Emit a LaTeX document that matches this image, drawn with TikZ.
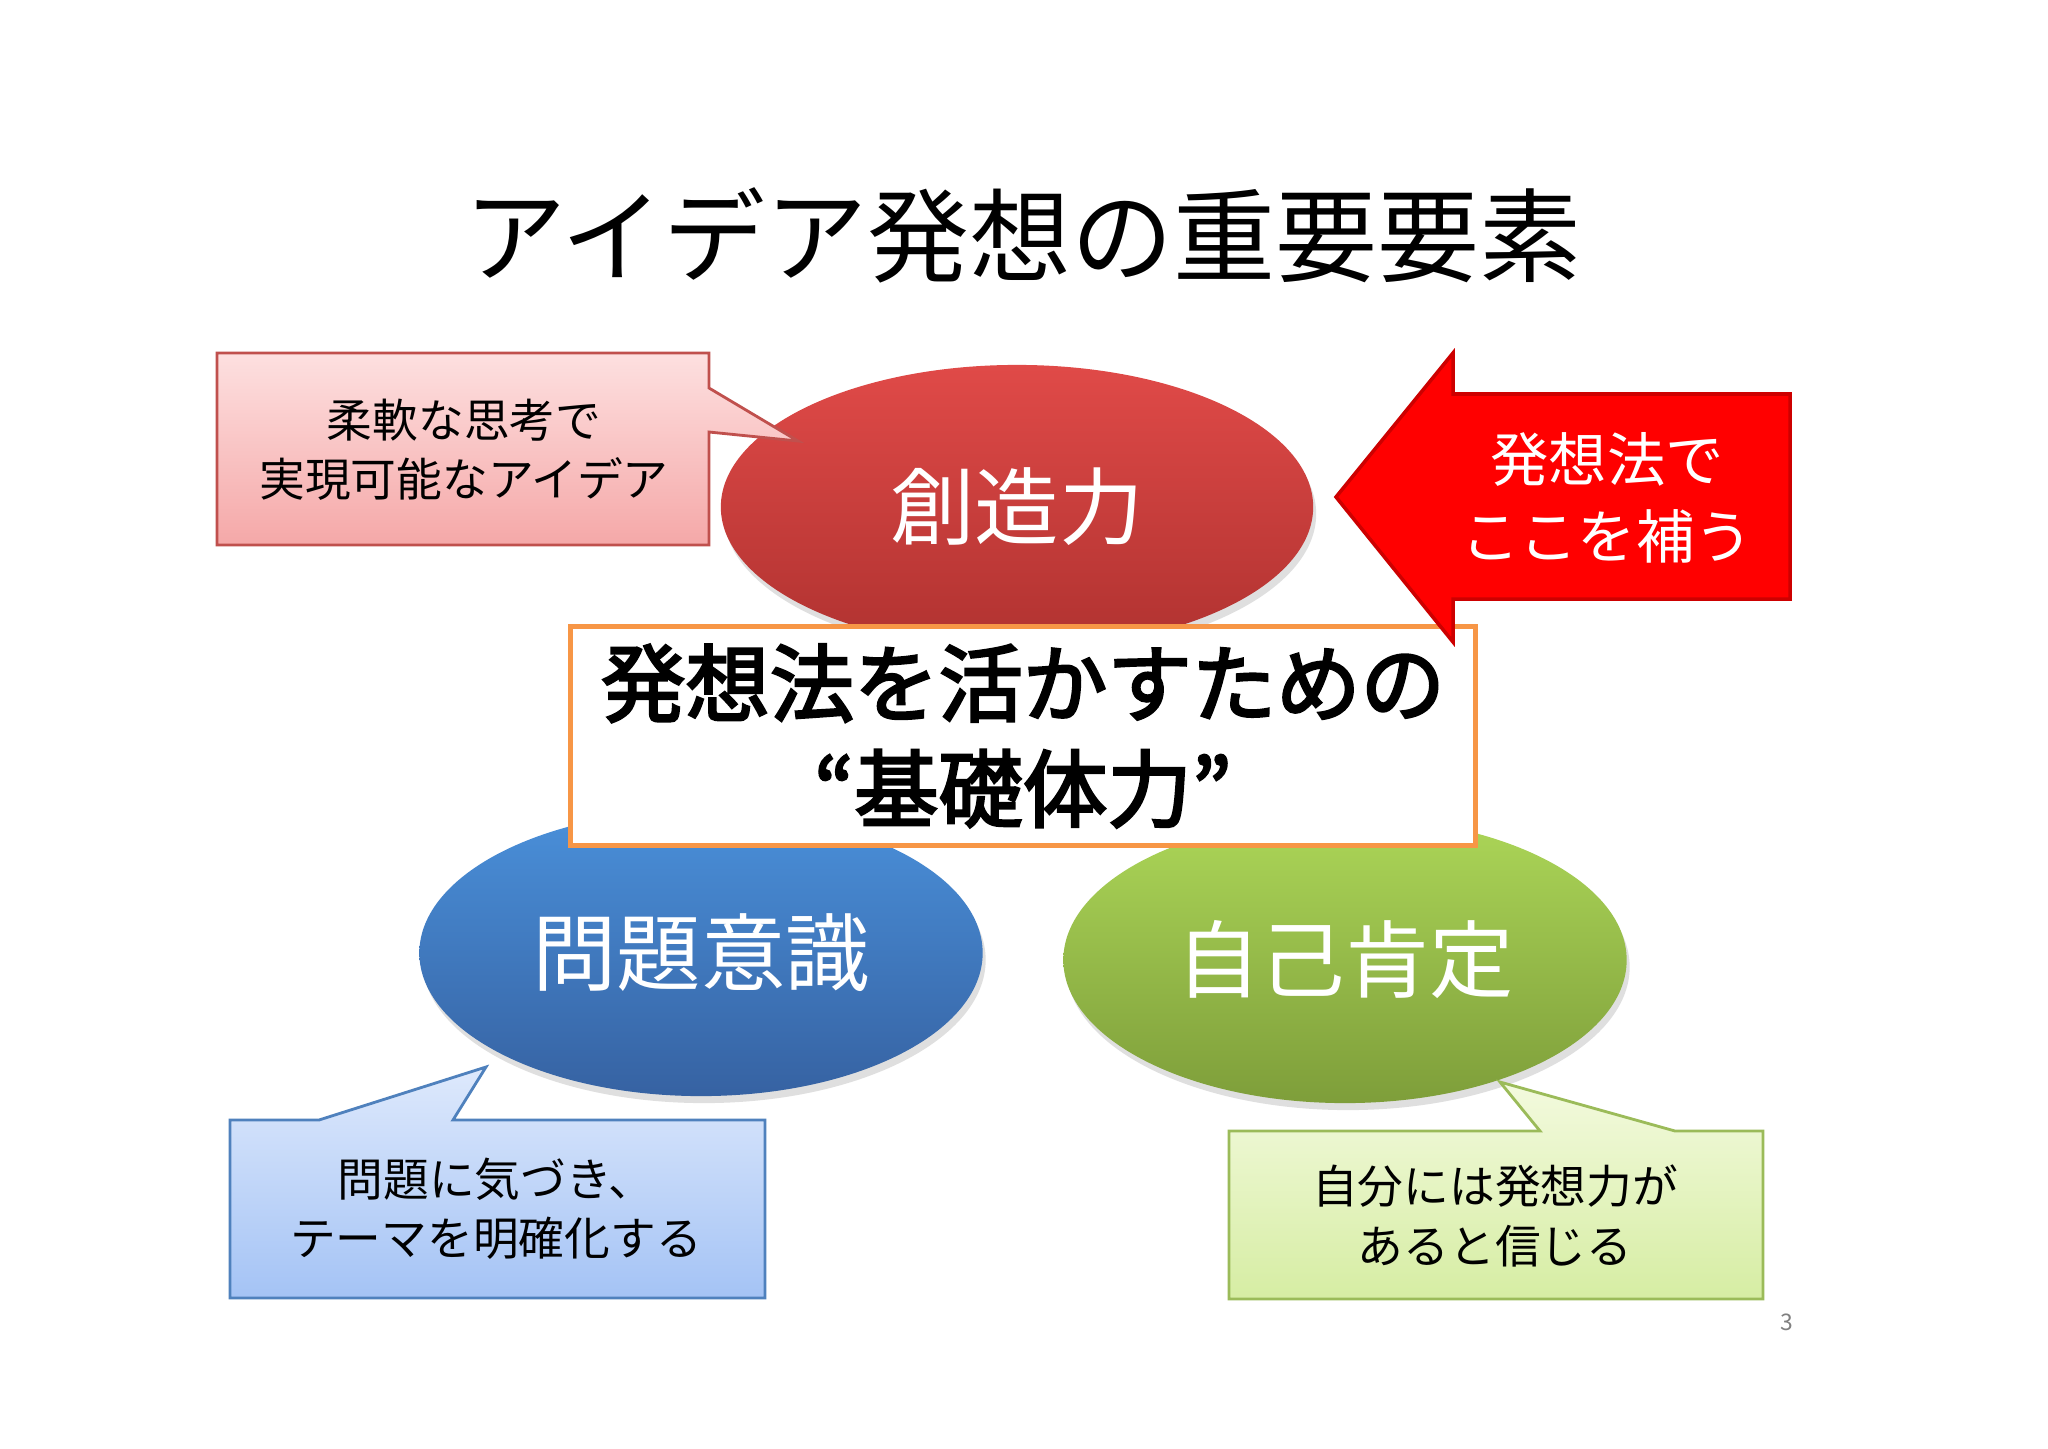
\documentclass[tikz,border=0pt]{standalone}
\usepackage{fontspec}
\setmainfont{Noto Sans CJK JP}
\newfontfamily\boxfont[FakeBold=3]{Noto Sans CJK JP}
\usetikzlibrary{shapes.geometric,shadows}

\definecolor{redtop}{RGB}{224,74,72}
\definecolor{redbot}{RGB}{176,50,48}
\definecolor{bluetop}{RGB}{74,144,218}
\definecolor{bluebot}{RGB}{54,98,162}
\definecolor{greentop}{RGB}{172,214,88}
\definecolor{greenbot}{RGB}{126,158,58}
\definecolor{pinktop}{RGB}{253,224,224}
\definecolor{pinkbot}{RGB}{245,168,168}
\definecolor{pinkedge}{RGB}{192,80,77}
\definecolor{skytop}{RGB}{222,233,252}
\definecolor{skybot}{RGB}{164,195,245}
\definecolor{skyedge}{RGB}{79,129,189}
\definecolor{limetop}{RGB}{243,250,222}
\definecolor{limebot}{RGB}{214,237,163}
\definecolor{limeedge}{RGB}{155,187,89}
\definecolor{arrowred}{RGB}{255,0,0}
\definecolor{arrowedge}{RGB}{205,0,0}
\definecolor{boxorange}{RGB}{247,150,70}

\begin{document}
\begin{tikzpicture}[x=0.01cm,y=-0.01cm,
	blob/.style={ellipse, inner sep=0pt, minimum width=5.63cm, minimum height=2.86cm, text=white,
		font=\fontsize{24pt}{28pt}\selectfont,
		drop shadow={opacity=0.25, shadow xshift=0.03cm, shadow yshift=-0.07cm}},
	bubble/.style={line width=0.8pt},
	tiptext/.style={align=center, inner sep=0pt, font=\fontsize{13pt}{16.8pt}\selectfont}]
			\useasboundingbox[fill=white] (0,0) rectangle (2048,1448);
			\node[inner sep=0pt, font=\fontsize{29pt}{34pt}\selectfont] (title) at (1023,235) {アイデア発想の重要要素};
			% three elements
			\node[blob, top color=redtop, bottom color=redbot, minimum width=5.92cm, minimum height=2.84cm] (sozo) at (1017,507) {創造力};
			\node[blob, top color=bluetop, bottom color=bluebot] (mondai) at (701,953) {問題意識};
			\node[blob, top color=greentop, bottom color=greenbot] (jiko) at (1345,960) {自己肯定};
			\node[draw=boxorange, line width=1.3pt, fill=white, minimum width=9.05cm, minimum height=2.19cm,
				align=center, font=\boxfont\fontsize{24pt}{30pt}\selectfont] (kiso) at (1023,736) {発想法を活かすための\\“基礎体力”};
			% big arrow
			\draw[fill=arrowred, draw=arrowedge, line width=1pt]
				(1336,497) -- (1453,353) -- (1453,394) -- (1790,394) -- (1790,599) -- (1453,599) -- (1453,642) -- cycle;
			\node[align=center, inner sep=0pt, text=white, font=\fontsize{16.6pt}{22pt}\selectfont] (hokau) at (1607,498) {発想法で\\ここを補う};
			% callouts
			\draw[bubble, draw=pinkedge, top color=pinktop, bottom color=pinkbot]
				(217,353) -- (709,353) -- (709,388) -- (798,441) -- (709,432) -- (709,545) -- (217,545) -- cycle;
			\node[tiptext] (pinknote) at (464,450) {柔軟な思考で\\実現可能なアイデア};
			\draw[bubble, draw=skyedge, top color=skytop, bottom color=skybot]
				(230,1120) -- (319,1120) -- (486,1067) -- (453,1120) -- (765,1120) -- (765,1298) -- (230,1298) -- cycle;
			\node[tiptext] (skynote) at (496,1209) {問題に気づき、\\テーマを明確化する};
			\draw[bubble, draw=limeedge, top color=limetop, bottom color=limebot]
				(1229,1131) -- (1540,1131) -- (1500,1082) -- (1675,1131) -- (1763,1131) -- (1763,1299) -- (1229,1299) -- cycle;
			\node[tiptext] (limenote) at (1495,1216) {自分には発想力が\\あると信じる};
			\node[inner sep=0pt, text=gray, font=\fontsize{6.5pt}{8pt}\selectfont] (page) at (1787,1322) {3};
		\end{tikzpicture}
\end{document}
